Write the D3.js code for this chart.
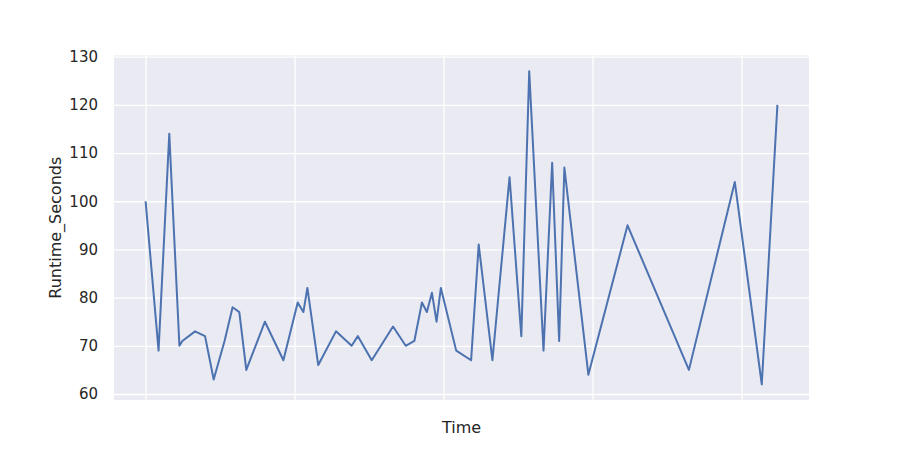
<!DOCTYPE html>
<html>
<head>
<meta charset="utf-8">
<script src="https://cdn.jsdelivr.net/npm/d3@7"></script>
<style>
  body { margin: 0; background: #fff; }
  text { font-family: "DejaVu Sans", sans-serif; fill: #262626; }
</style>
</head>
<body>
<svg id="chart" width="900" height="450"></svg>
<script>
// time offsets (arbitrary units, gridlines every 100) and runtimes
const times = [0, 8.7, 15.9, 22.7, 24.7, 33.2, 39.9, 45.7, 53.0, 58.4, 62.9, 67.6,
  80.1, 92.5, 102.1, 105.9, 108.6, 115.9, 127.8, 138.3, 142.5, 151.8, 166.1, 174.6,
  180.4, 185.5, 188.8, 192.2, 195.3, 198.2, 208.5, 218.5, 223.6, 232.8, 244.3, 252.2,
  257.5, 267.1, 272.9, 277.6, 281.1, 297.2, 323.5, 364.7, 395.5, 413.6, 424.1];
const runtimes = [100, 69, 114, 70, 71, 73, 72, 63, 71, 78, 77, 65,
  75, 67, 79, 77, 82, 66, 73, 70, 72, 67, 74, 70,
  71, 79, 77, 81, 75, 82, 69, 67, 91, 67, 105, 72,
  127, 69, 108, 71, 107, 64, 95, 65, 104, 62, 120];
const xTicks = [0, 100, 200, 300, 400];
const yTicks = [60, 70, 80, 90, 100, 110, 120, 130];

const data = times.map((t, i) => ({ t: t, v: runtimes[i] }));

const margin = { left: 114, right: 91, top: 55.5, bottom: 50 };
const width = 900, height = 450;
const svg = d3.select("#chart");

// matplotlib style 5% padding
const padX = d3.extent(times), padY = d3.extent(runtimes);
const dx = (padX[1] - padX[0]) * 0.05, dy = (padY[1] - padY[0]) * 0.05;

const x = d3.scaleLinear()
    .domain([padX[0] - dx, padX[1] + dx])
    .range([margin.left, width - margin.right]);
const y = d3.scaleLinear()
    .domain([padY[0] - dy, padY[1] + dy])
    .range([height - margin.bottom, margin.top]);

// background
svg.append("rect")
    .attr("x", margin.left)
    .attr("y", margin.top)
    .attr("width", width - margin.left - margin.right)
    .attr("height", height - margin.top - margin.bottom)
    .attr("fill", "#eaeaf2");

// grid
svg.append("g")
    .attr("transform", `translate(0,${height - margin.bottom})`)
    .call(d3.axisBottom(x).tickValues(xTicks).tickFormat("")
        .tickSize(-(height - margin.top - margin.bottom)))
    .call(g => g.select(".domain").remove())
    .call(g => g.selectAll("line").attr("stroke", "#fff").attr("stroke-width", 1.3));

const yAxis = svg.append("g")
    .attr("transform", `translate(${margin.left},0)`)
    .call(d3.axisLeft(y).tickValues(yTicks)
        .tickSize(-(width - margin.left - margin.right)).tickPadding(16))
    .call(g => g.select(".domain").remove())
    .call(g => g.selectAll("line").attr("stroke", "#fff").attr("stroke-width", 1.3));
yAxis.selectAll("text")
    .attr("font-size", 15)
    .attr("fill", "#262626")
    .style("font-family", "DejaVu Sans");

// line
const line = d3.line().x(d => x(d.t)).y(d => y(d.v));
svg.append("path")
    .datum(data)
    .attr("d", line)
    .attr("fill", "none")
    .attr("stroke", "#4c72b0")
    .attr("stroke-width", 2)
    .attr("stroke-linejoin", "round");

// axis labels
svg.append("text")
    .attr("x", (margin.left + width - margin.right) / 2)
    .attr("y", 433)
    .attr("text-anchor", "middle")
    .attr("font-size", 16)
    .text("Time");

svg.append("text")
    .attr("transform", `translate(61,${(margin.top + height - margin.bottom) / 2}) rotate(-90)`)
    .attr("text-anchor", "middle")
    .attr("font-size", 16)
    .text("Runtime_Seconds");
</script>
</body>
</html>
